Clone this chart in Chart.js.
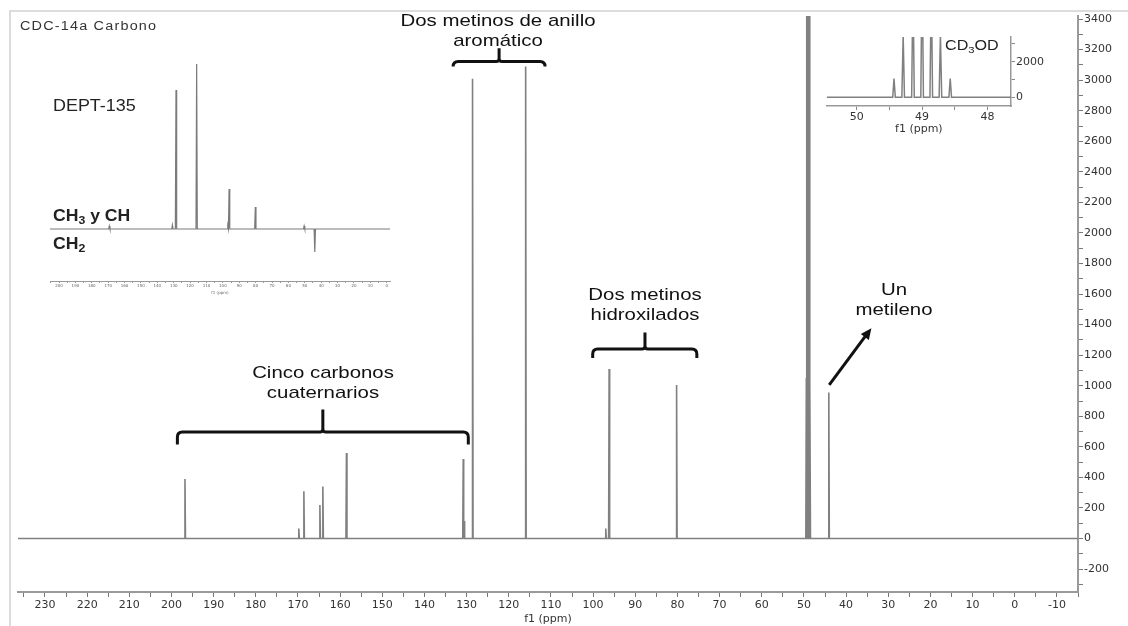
<!DOCTYPE html>
<html>
<head>
<meta charset="utf-8">
<title>CDC-14a Carbono</title>
<script src="https://cdn.jsdelivr.net/npm/chart.js"></script>
<style>
  html, body { margin: 0; padding: 0; background: #fff; }
  #page { position: relative; width: 1128px; height: 626px; overflow: hidden; font-family: "Liberation Sans", Arial, sans-serif; }
  canvas { position: absolute; }
  #main { left: 0; top: 0; }
  #dept { left: 40px; top: 40px; }
  #solv { left: 815px; top: 25px; }
  .frame-top { position: absolute; left: 9px; top: 10px; width: 1119px; height: 2px; background: #dcdcdc; }
  .frame-left { position: absolute; left: 9px; top: 10px; width: 2px; height: 616px; background: #dcdcdc; }
  .note { position: absolute; color: #111; font-size: 17px; line-height: 20px; text-align: center; white-space: nowrap; transform: translateX(-50%) scaleX(1.2); }
  .tag { position: absolute; color: #222; white-space: nowrap; transform-origin: 0 50%; }
  sub { font-size: 70%; vertical-align: -3px; line-height: 0; }
</style>
</head>
<body>
<div id="page">
  <div class="frame-top"></div>
  <div class="frame-left"></div>
  <canvas id="main" width="1128" height="626"></canvas>
  <canvas id="dept" width="360" height="265"></canvas>
  <canvas id="solv" width="260" height="115"></canvas>

  <div class="tag" style="left:20px; top:19px; font-size:12px; letter-spacing:1px; color:#333; transform:scaleX(1.2);">CDC-14a Carbono</div>
  <div class="tag" style="left:53px; top:97px; font-size:16px; transform:scaleX(1.12);">DEPT-135</div>
  <div class="tag" style="left:53px; top:207px; font-size:16px; font-weight:bold; transform:scaleX(1.1);">CH<sub>3</sub> y CH</div>
  <div class="tag" style="left:53px; top:235px; font-size:16px; font-weight:bold; transform:scaleX(1.1);">CH<sub>2</sub></div>
  <div class="tag" style="left:945px; top:37px; font-size:14px; transform:scaleX(1.15);">CD<sub>3</sub>OD</div>

  <div class="note" style="left:498px; top:11px;">Dos metinos de anillo<br>aromático</div>
  <div class="note" style="left:323px; top:363px;">Cinco carbonos<br>cuaternarios</div>
  <div class="note" style="left:645px; top:285px;">Dos metinos<br>hidroxilados</div>
  <div class="note" style="left:894px; top:280px;">Un<br>metileno</div>
</div>
<script>
// 13C spectrum: peak positions (ppm) and heights
const peakPpm = [196.8, 169.8, 168.6, 164.8, 164.1, 158.5, 130.8, 130.6, 128.6, 116.0, 97.0, 96.2, 80.2, 44.1]
const peakHeight = [390, 65, 310, 220, 340, 560, 520, 115, 3010, 3090, 65, 1110, 1005, 955]

// CD3OD septet, in the main spectrum and in the top-right inset
const solventPpm = [49.43, 49.29, 49.14, 49.00, 48.86, 48.72, 48.57]
const solventHeight = [1050, 3500, 6600, 7700, 6600, 3500, 1050]

// DEPT-135 inset (arbitrary units, negative = CH2)
const deptPpm = [169.3, 130.8, 128.6, 116.0, 97.0, 96.2, 80.2, 50.4, 43.9]
const deptHeight = [3, 4, 139, 165, 3, 40, 22, 3, -23]

// labelled ticks
const ppmLabels = [230, 220, 210, 200, 190, 180, 170, 160, 150, 140, 130, 120, 110, 100, 90, 80, 70, 60, 50, 40, 30, 20, 10, 0, -10]
const intensityLabels = [-200, 0, 200, 400, 600, 800, 1000, 1200, 1400, 1600, 1800, 2000, 2200, 2400, 2600, 2800, 3000, 3200, 3400]
const deptLabels = [200, 190, 180, 170, 160, 150, 140, 130, 120, 110, 100, 90, 80, 70, 60, 50, 40, 30, 20, 10, 0]
const solventPpmLabels = [50, 49, 48]
const solventIntensityTicks = [0, 1000, 2000, 3000]
const solventIntensityLabels = [0, 2000]

// group brackets and the arrow, in ppm / intensity
const brackets = [
  { from: 198.6, to: 129.6, mid: 164.1, y: 698, end: 615, tip: 844 },
  { from: 133.2, to: 111.4, mid: 122.3, y: 3122, end: 3089, tip: 3209 },
  { from: 100.1, to: 75.4, mid: 87.7, y: 1240, end: 1182, tip: 1348 },
]
const arrow = { from: [44.0, 1006], to: [34.0, 1377] }

function spectrum(ppms, heights, halfWidth, left, right) {
  const peaks = ppms.map((p, i) => ({ p, h: heights[i] })).sort((a, b) => b.p - a.p)
  const pts = [{ x: left, y: 0 }]
  peaks.forEach(({ p, h }) => {
    pts.push({ x: p + halfWidth, y: 0 }, { x: p, y: h }, { x: p - halfWidth, y: 0 })
  })
  pts.push({ x: right, y: 0 })
  return pts
}

const tickFont = { family: "DejaVu Sans", size: 11 }
const base = {
  responsive: false,
  animation: false,
  events: [],
  plugins: { legend: { display: false }, tooltip: { enabled: false } },
}

const marks = {
  id: "marks",
  afterDatasetsDraw(chart) {
    const { ctx, scales: { x, y } } = chart
    ctx.save()
    ctx.strokeStyle = "#111"
    ctx.fillStyle = "#111"
    ctx.lineWidth = 3
    ctx.lineJoin = "round"
    brackets.forEach(b => {
      const x1 = x.getPixelForValue(b.from)
      const x2 = x.getPixelForValue(b.to)
      const xm = x.getPixelForValue(b.mid)
      const yl = y.getPixelForValue(b.y)
      const ye = y.getPixelForValue(b.end)
      const yt = y.getPixelForValue(b.tip)
      const r = Math.min(5, ye - yl)
      ctx.beginPath()
      ctx.moveTo(x1, ye)
      ctx.lineTo(x1, yl + r)
      ctx.quadraticCurveTo(x1, yl, x1 + r, yl)
      ctx.lineTo(xm - 3, yl)
      ctx.quadraticCurveTo(xm, yl, xm, yl - 3)
      ctx.lineTo(xm, yt)
      ctx.moveTo(xm, yl - 3)
      ctx.quadraticCurveTo(xm, yl, xm + 3, yl)
      ctx.lineTo(x2 - r, yl)
      ctx.quadraticCurveTo(x2, yl, x2, yl + r)
      ctx.lineTo(x2, ye)
      ctx.stroke()
    })
    const ax = x.getPixelForValue(arrow.from[0])
    const ay = y.getPixelForValue(arrow.from[1])
    const bx = x.getPixelForValue(arrow.to[0])
    const by = y.getPixelForValue(arrow.to[1])
    const ang = Math.atan2(by - ay, bx - ax)
    const len = 11
    ctx.beginPath()
    ctx.moveTo(ax, ay)
    ctx.lineTo(bx - Math.cos(ang) * len * 0.8, by - Math.sin(ang) * len * 0.8)
    ctx.stroke()
    ctx.beginPath()
    ctx.moveTo(bx, by)
    ctx.lineTo(bx - Math.cos(ang) * len + Math.sin(ang) * 5, by - Math.sin(ang) * len - Math.cos(ang) * 5)
    ctx.lineTo(bx - Math.cos(ang) * len - Math.sin(ang) * 5, by - Math.sin(ang) * len + Math.cos(ang) * 5)
    ctx.closePath()
    ctx.fill()
    ctx.restore()
  }
}

// main spectrum
new Chart(document.getElementById("main"), {
  type: "line",
  data: {
    datasets: [{
      data: spectrum(peakPpm.concat(solventPpm), peakHeight.concat(solventHeight), 0.12, 236.4, -15),
      borderColor: "#808080",
      borderWidth: 1.6,
      pointRadius: 0,
      tension: 0,
    }]
  },
  options: {
    ...base,
    layout: { padding: { left: 18, top: 16, right: 0, bottom: 0 } },
    scales: {
      x: {
        type: "linear",
        reverse: true,
        min: -15,
        max: 236.4,
        afterFit: s => { s.height = 34 },
        border: { color: "#9a9a9a", width: 2 },
        grid: { drawOnChartArea: false, tickLength: 5, color: "#777" },
        ticks: {
          stepSize: 5, includeBounds: false, autoSkip: false, maxRotation: 0, padding: 2,
          color: "#333", font: tickFont,
          callback: v => ppmLabels.includes(v) ? String(v) : "",
        },
        title: { display: true, text: "f1 (ppm)", padding: 0, color: "#333", font: tickFont },
      },
      y: {
        position: "right",
        min: -350,
        max: 3420,
        afterFit: s => { s.width = 50 },
        border: { color: "#9a9a9a", width: 2 },
        grid: { drawOnChartArea: false, tickLength: 5, color: "#777" },
        ticks: {
          stepSize: 100, includeBounds: false, autoSkip: false, padding: 1,
          color: "#333", font: tickFont,
          callback: v => intensityLabels.includes(v) ? String(v) : "",
        },
      },
    },
  },
  plugins: [marks],
})

// DEPT-135 inset
new Chart(document.getElementById("dept"), {
  type: "line",
  data: {
    datasets: [{
      data: spectrum(deptPpm, deptHeight, 0.4, 205.5, -2),
      borderColor: "#7a7a7a",
      borderWidth: 1.2,
      pointRadius: 0,
      tension: 0,
    }]
  },
  options: {
    ...base,
    layout: { padding: { left: 10, right: 10, top: 10, bottom: 10 } },
    scales: {
      x: {
        type: "linear",
        reverse: true,
        min: -2,
        max: 205.5,
        afterFit: s => { s.height = 14 },
        border: { color: "#999", width: 1 },
        grid: { drawOnChartArea: false, tickLength: 2, color: "#999" },
        ticks: {
          stepSize: 5, includeBounds: false, autoSkip: false, maxRotation: 0, padding: 1,
          color: "#666", font: { family: "DejaVu Sans", size: 4 },
          callback: v => deptLabels.includes(v) ? String(v) : "",
        },
        title: { display: true, text: "f1 (ppm)", padding: 0, color: "#666", font: { family: "DejaVu Sans", size: 4 } },
      },
      y: { display: false, min: -52, max: 179 },
    },
  },
})

// CD3OD inset
new Chart(document.getElementById("solv"), {
  type: "line",
  data: {
    datasets: [{
      data: spectrum(solventPpm, solventHeight, 0.02, 50.46, 47.64),
      borderColor: "#808080",
      borderWidth: 1.5,
      pointRadius: 0,
      tension: 0,
    }]
  },
  options: {
    ...base,
    layout: { padding: { left: 11.7, right: 15, top: 12, bottom: 4 } },
    scales: {
      x: {
        type: "linear",
        reverse: true,
        min: 47.64,
        max: 50.46,
        afterFit: s => { s.height = 30 },
        border: { color: "#999", width: 1.5 },
        grid: { drawOnChartArea: false, tickLength: 4, color: "#888" },
        ticks: {
          stepSize: 0.5, includeBounds: false, autoSkip: false, maxRotation: 0, padding: 1,
          color: "#333", font: tickFont,
          callback: v => solventPpmLabels.includes(v) ? String(v) : "",
        },
        title: { display: true, text: "f1 (ppm)", padding: 0, color: "#333", font: tickFont },
      },
      y: {
        position: "right",
        min: -490,
        max: 3390,
        afterFit: s => { s.width = 49 },
        afterBuildTicks: s => { s.ticks = solventIntensityTicks.map(v => ({ value: v })) },
        border: { color: "#999", width: 1.5 },
        grid: { drawOnChartArea: false, tickLength: 4, color: "#888" },
        ticks: {
          autoSkip: false, padding: 1,
          color: "#333", font: tickFont,
          callback: v => solventIntensityLabels.includes(v) ? String(v) : "",
        },
      },
    },
  },
})
</script>
</body>
</html>
